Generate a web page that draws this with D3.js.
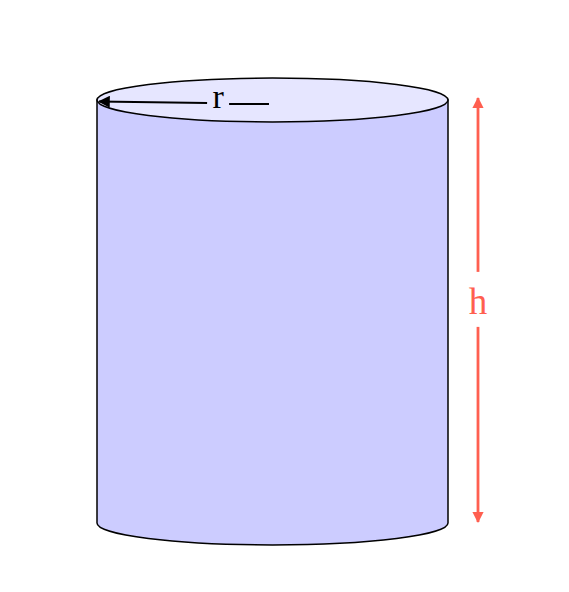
<!DOCTYPE html>
<html>
<head>
<meta charset="utf-8">
<script src="https://d3js.org/d3.v7.min.js"></script>
<style>
  html, body { margin: 0; padding: 0; background: #fff; }
  svg { display: block; }
</style>
</head>
<body>
<div id="chart"></div>
<script>
// Cylinder dimensions (data units: radius = 1)
const dimLabels = ["r", "h"];
const dimValues = [1, 2.41];
const tilt = [0.125];   // ellipse ry / rx

const width = 569, height = 592;

const svg = d3.select("#chart").append("svg")
    .attr("width", width)
    .attr("height", height);

const r = dimValues[0], h = dimValues[1];

// scales from data units to pixels
const x = d3.scaleLinear().domain([-r, r]).range([97, 448]);
const y = d3.scaleLinear().domain([0, h]).range([523, 100]);

const cx = x(0);
const rx = x(r) - x(0);
const ry = rx * tilt[0];

const defs = svg.append("defs");
defs.append("marker")
    .attr("id", "arrow-black")
    .attr("viewBox", "0 0 10 10")
    .attr("refX", 9).attr("refY", 5)
    .attr("markerWidth", 6).attr("markerHeight", 6)
    .attr("markerUnits", "strokeWidth")
    .attr("orient", "auto")
    .append("path").attr("d", "M0,0 L10,5 L0,10 z").attr("fill", "#000");

defs.append("marker")
    .attr("id", "arrow-red")
    .attr("viewBox", "0 0 10 10")
    .attr("refX", 9).attr("refY", 5)
    .attr("markerWidth", 4.5).attr("markerHeight", 4)
    .attr("markerUnits", "strokeWidth")
    .attr("orient", "auto")
    .append("path").attr("d", "M0,0 L10,5 L0,10 z").attr("fill", "#ff5f50");

// body: sides + front half of bottom ellipse
const yTop = y(h), yBot = y(0);
svg.append("path")
    .attr("d", `M${x(-r)},${yTop} L${x(-r)},${yBot} A${rx},${ry} 0 0 0 ${x(r)},${yBot} L${x(r)},${yTop} Z`)
    .attr("fill", "#ccccff")
    .attr("stroke", "#000")
    .attr("stroke-width", 1.5);

// top ellipse
svg.append("ellipse")
    .attr("cx", cx).attr("cy", yTop)
    .attr("rx", rx).attr("ry", ry)
    .attr("fill", "#e6e6ff")
    .attr("stroke", "#000")
    .attr("stroke-width", 1.5);

// radius arrow with label in the middle
const rLabelX = x(-r * 0.31);
svg.append("line")
    .attr("x1", rLabelX - 11).attr("y1", yTop + 3)
    .attr("x2", x(-r) + 2).attr("y2", yTop + 1.5)
    .attr("stroke", "#000").attr("stroke-width", 2)
    .attr("marker-end", "url(#arrow-black)");
svg.append("line")
    .attr("x1", rLabelX + 11).attr("y1", yTop + 4)
    .attr("x2", x(-r * 0.02)).attr("y2", yTop + 4)
    .attr("stroke", "#000").attr("stroke-width", 2);
svg.append("text")
    .attr("x", rLabelX).attr("y", yTop + 8)
    .attr("text-anchor", "middle")
    .attr("font-family", "Liberation Serif, serif")
    .attr("font-size", 34)
    .attr("fill", "#000")
    .text(dimLabels[0]);

// height arrow
const hx = 478;
const hMid = y(h * 0.518);
svg.append("line")
    .attr("x1", hx).attr("y1", hMid - 32)
    .attr("x2", hx).attr("y2", yTop - 2)
    .attr("stroke", "#ff5f50").attr("stroke-width", 2.8)
    .attr("marker-end", "url(#arrow-red)");
svg.append("line")
    .attr("x1", hx).attr("y1", hMid + 23)
    .attr("x2", hx).attr("y2", yBot - 1)
    .attr("stroke", "#ff5f50").attr("stroke-width", 2.8)
    .attr("marker-end", "url(#arrow-red)");
svg.append("text")
    .attr("x", hx).attr("y", hMid + 10)
    .attr("text-anchor", "middle")
    .attr("font-family", "Liberation Serif, serif")
    .attr("font-size", 37)
    .attr("fill", "#ff5f50")
    .text(dimLabels[1]);
</script>
</body>
</html>
